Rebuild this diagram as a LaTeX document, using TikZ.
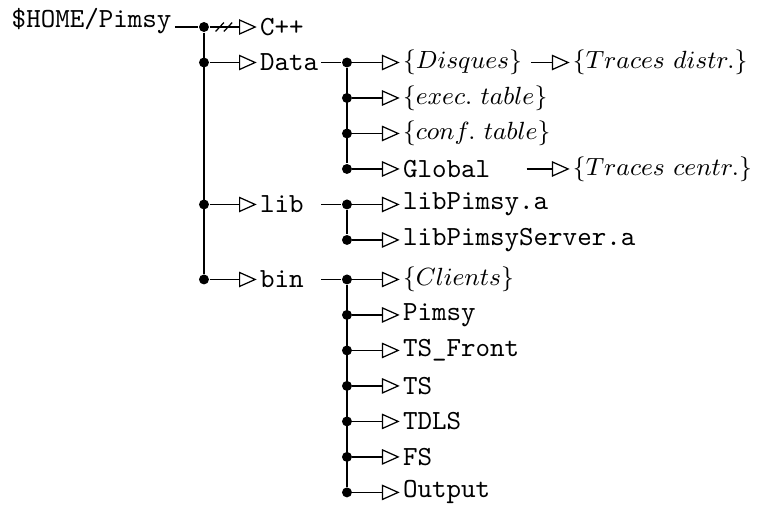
\documentclass[tikz,border=0pt]{standalone}
\usepackage{amsmath}
\usepackage{tikz}
\usetikzlibrary{arrows.meta,positioning}

\begin{document}
\begin{tikzpicture}[on grid,node distance=4.51mm and 6.7mm,
  dot/.style={circle,fill,inner sep=0pt,minimum size=3.6pt},
  dir/.style={anchor=west,inner sep=1pt,font=\ttfamily},
  set/.style={anchor=west,inner sep=1pt,font=\small},
  lvl/.style={dir,text width=21pt},
  arr/.style={-{Triangle[open,length=6.4pt,width=5.6pt]},line width=0.45pt},
  ln/.style={line width=0.45pt}]
  \useasboundingbox (0,0) rectangle (9.645,-6.455);
  \node[font=\ttfamily,anchor=base east,inner sep=0pt] (home) at (2.186,-0.343) {\$HOME/Pimsy};
  % first level
  \node[dot] (a0) at (2.592,-0.343) {};
  \node[dot] (a1) [below=of a0] {};
  \node[dot] (a2) [below=18.04mm of a1] {};
  \node[dot] (a3) [below=9.53mm of a2] {};
  \node (cpp) [right=of a0,dir] {C++};
  \node (data) [right=of a1,lvl] {Data};
  \node (lib) [right=of a2,lvl] {lib};
  \node (bin) [right=of a3,lvl] {bin};
  % Data
  \node[dot] (b0) [right=18.17mm of a1] {};
  \node[dot] (b1) [below=of b0] {};
  \node[dot] (b2) [below=of b1] {};
  \node[dot] (b3) [below=of b2] {};
  \node (disq) [right=of b0,set] {$\{Disques\}$};
  \node (exec) [right=of b1,set] {$\{exec.\ table\}$};
  \node (conf) [right=of b2,set] {$\{conf.\ table\}$};
  \node (glob) [right=of b3,dir] {Global};
  \node (trd) [right=28.3mm of b0,set] {$\{Traces\ distr.\}$};
  \node (trc) [right=28.3mm of b3,set] {$\{Traces\ centr.\}$};
  % lib
  \node[dot] (c0) [right=18.17mm of a2] {};
  \node[dot] (c1) [below=of c0] {};
  \node (lpa) [right=of c0,dir] {libPimsy.a};
  \node (lps) [right=of c1,dir] {libPimsyServer.a};
  % bin
  \node[dot] (e0) [right=18.17mm of a3] {};
  \node[dot] (e1) [below=of e0] {};
  \node[dot] (e2) [below=of e1] {};
  \node[dot] (e3) [below=of e2] {};
  \node[dot] (e4) [below=of e3] {};
  \node[dot] (e5) [below=of e4] {};
  \node[dot] (e6) [below=of e5] {};
  \node (cli) [right=of e0,set] {$\{Clients\}$};
  \node (pim) [right=of e1,dir] {Pimsy};
  \node (tsf) [right=of e2,dir] {TS\_Front};
  \node (ts) [right=of e3,dir] {TS};
  \node (tdls) [right=of e4,dir] {TDLS};
  \node (fs) [right=of e5,dir] {FS};
  \node (out) [right=of e6,dir] {Output};

  \draw[ln] ([xshift=1pt]home.base east) -- (a0);
  \draw[ln] (a0) -- (a3) (b0) -- (b3) (c0) -- (c1) (e0) -- (e6);
  \draw[ln] (data) -- (b0) (lib) -- (c0) (bin) -- (e0);
  \draw[ln] ([xshift=4.2pt,yshift=-1.6pt]a0.center) -- ++(3pt,3.2pt)
    ([xshift=7.2pt,yshift=-1.6pt]a0.center) -- ++(3pt,3.2pt);
  \path[arr]
  (a0) edge (cpp)
  (a1) edge (data)
  (a2) edge (lib)
  (a3) edge (bin)
  (b0) edge (disq)
  (b1) edge (exec)
  (b2) edge (conf)
  (b3) edge (glob)
  ([xshift=2pt]disq.east) edge (trd)
  ([xshift=12pt]glob.east) edge (trc)
  (c0) edge (lpa)
  (c1) edge (lps)
  (e0) edge (cli)
  (e1) edge (pim)
  (e2) edge (tsf)
  (e3) edge (ts)
  (e4) edge (tdls)
  (e5) edge (fs)
  (e6) edge (out)
  ;
\end{tikzpicture}
\end{document}
